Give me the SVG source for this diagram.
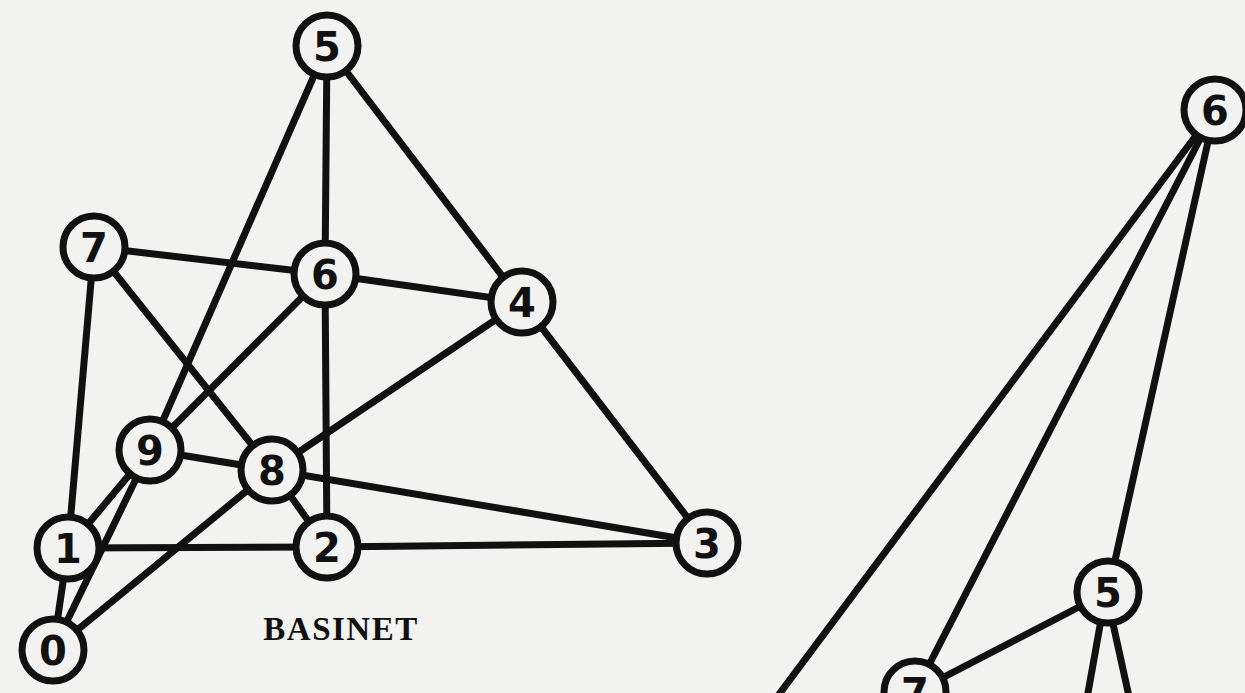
<svg xmlns="http://www.w3.org/2000/svg" width="1245" height="693" viewBox="0 0 1245 693">
<style>
.e{stroke:#111;stroke-width:7;stroke-linecap:round;fill:none}
.n circle{fill:#f2f2f0;stroke:#111;stroke-width:7}
.n text{font-family:"DejaVu Sans",sans-serif;font-weight:bold;font-size:40px;fill:#111;text-anchor:middle}
.lbl{font-family:"Liberation Serif",serif;font-weight:bold;font-size:33px;fill:#111;text-anchor:middle;letter-spacing:1.5px}
</style>
<rect width="1245" height="693" fill="#f2f2f0"/>
<g id="connectors">
<line class="e" x1="327" y1="46" x2="325" y2="274"/>
<line class="e" x1="327" y1="46" x2="522" y2="302"/>
<line class="e" x1="327" y1="46" x2="150" y2="450"/>
<line class="e" x1="94" y1="247" x2="325" y2="274"/>
<line class="e" x1="94" y1="247" x2="68" y2="548"/>
<line class="e" x1="94" y1="247" x2="272" y2="470"/>
<line class="e" x1="325" y1="274" x2="522" y2="302"/>
<line class="e" x1="325" y1="274" x2="150" y2="450"/>
<line class="e" x1="325" y1="274" x2="327" y2="547"/>
<line class="e" x1="522" y1="302" x2="272" y2="470"/>
<line class="e" x1="522" y1="302" x2="707" y2="543"/>
<line class="e" x1="150" y1="450" x2="272" y2="470"/>
<line class="e" x1="150" y1="450" x2="68" y2="548"/>
<line class="e" x1="150" y1="450" x2="53" y2="650"/>
<line class="e" x1="272" y1="470" x2="707" y2="543"/>
<line class="e" x1="272" y1="470" x2="327" y2="547"/>
<line class="e" x1="272" y1="470" x2="53" y2="650"/>
<line class="e" x1="68" y1="548" x2="327" y2="547"/>
<line class="e" x1="327" y1="547" x2="707" y2="543"/>
<line class="e" x1="68" y1="548" x2="53" y2="650"/>
<line class="e" x1="1215" y1="110" x2="730" y2="760"/>
<line class="e" x1="1215" y1="110" x2="915" y2="692"/>
<line class="e" x1="1215" y1="110" x2="1108" y2="592"/>
<line class="e" x1="1108" y1="592" x2="915" y2="692"/>
<line class="e" x1="1106" y1="592" x2="1076" y2="760"/>
<line class="e" x1="1106" y1="592" x2="1143" y2="760"/>
</g>
<g id="n5" class="n"><circle cx="327" cy="46" r="31"/><text x="327" y="61">5</text></g>
<g id="n7" class="n"><circle cx="94" cy="247" r="31"/><text x="94" y="262">7</text></g>
<g id="n6" class="n"><circle cx="325" cy="274" r="31"/><text x="325" y="289">6</text></g>
<g id="n4" class="n"><circle cx="522" cy="302" r="31"/><text x="522" y="317">4</text></g>
<g id="n9" class="n"><circle cx="150" cy="450" r="31"/><text x="150" y="465">9</text></g>
<g id="n8" class="n"><circle cx="272" cy="470" r="31"/><text x="272" y="485">8</text></g>
<g id="n1" class="n"><circle cx="68" cy="548" r="31"/><text x="68" y="563">1</text></g>
<g id="n2" class="n"><circle cx="327" cy="547" r="31"/><text x="327" y="562">2</text></g>
<g id="n3" class="n"><circle cx="707" cy="543" r="31"/><text x="707" y="558">3</text></g>
<g id="n0" class="n"><circle cx="53" cy="650" r="31"/><text x="53" y="665">0</text></g>
<g id="r6" class="n"><circle cx="1215" cy="110" r="31"/><text x="1215" y="125">6</text></g>
<g id="r5" class="n"><circle cx="1108" cy="592" r="31"/><text x="1108" y="607">5</text></g>
<g id="r7" class="n"><circle cx="915" cy="692" r="31"/><text x="915" y="707">7</text></g>
<text class="lbl" x="341" y="640">BASINET</text>
</svg>
